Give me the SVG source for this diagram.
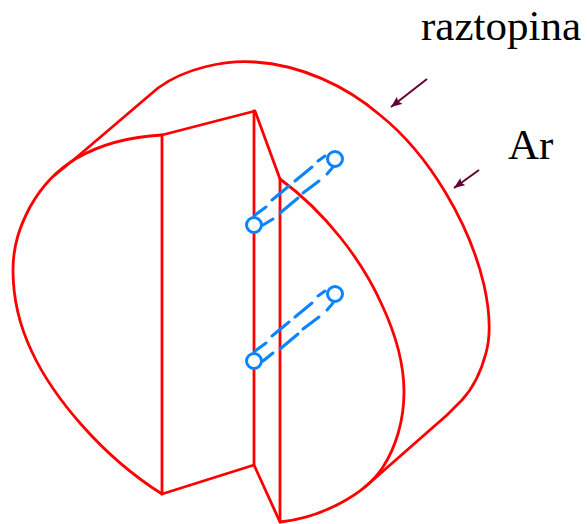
<svg xmlns="http://www.w3.org/2000/svg" width="587" height="524" viewBox="0 0 587 524">
<style>
.r{fill:none;stroke:#ff0000;stroke-width:2.8;stroke-linejoin:round;stroke-linecap:round}
.b{fill:none;stroke:#0a84ff;stroke-width:3;stroke-linecap:round}
.c{fill:#fff;stroke:#0a84ff;stroke-width:3}
.a{stroke:#660033;stroke-width:2;fill:none}
.t{font-family:"Liberation Serif",serif;font-size:43px;fill:#000}
</style>
<defs><marker id="h" markerWidth="12" markerHeight="10" refX="11" refY="4.5" orient="auto" markerUnits="userSpaceOnUse"><path d="M0 0L11 4.5L0 9L2 4.5Z" fill="#660033"/></marker></defs>
<g id="body">
<path class="r" d="M55 175L77 157L158 88C185 68 225 60 255 62C300 65 345 85 380 115C430 155 470 225 484 285C490 312 491 335 486 353C481 372 473 388 462 400C455 407 450 412 447 415L365 487"/>
<path class="r" d="M162 135C125 137 98 146 77 158C60 168 44 182 30 207C20 226 13 245 13 270C13 300 20 327 32 352C52 395 100 455 162 494L254 465L280 522C320 518 365 495 383 467C396 447 404 420 404 392C404 362 396 335 382 305C362 260 325 212 280 179L255 111L162 135Z"/>
<path class="r" d="M162 135V494"/>
<path class="r" d="M254 111V465"/>
<path class="r" d="M280 179V522"/>
</g>
<g id="connectors">
<path class="b" d="M255 215L266 207M272 200L289 186M295 181L312 167M318 161L325 156"/>
<path class="b" d="M263 225L273 219M280 213L298 198M303 193L319 181M327 174L333 167"/>
<path class="b" d="M255 351L266 343M272 336L289 322M295 317L312 303M318 296L325 291"/>
<path class="b" d="M263 361L273 353M280 349L298 334M303 329L319 317M327 310L333 303"/>
<path class="a" d="M427 79L391 107" marker-end="url(#h)"/>
<path class="a" d="M479 170L454 188" marker-end="url(#h)"/>
</g>
<g id="ports">
<circle class="c" cx="254" cy="225" r="7.5"/>
<circle class="c" cx="335" cy="159" r="7.5"/>
<circle class="c" cx="254" cy="361" r="7.5"/>
<circle class="c" cx="335" cy="294" r="7.5"/>
</g>
<g id="label-raztopina"><text class="t" x="421" y="40">raztopina</text></g>
<g id="label-ar"><text class="t" x="508" y="159">Ar</text></g>
</svg>
